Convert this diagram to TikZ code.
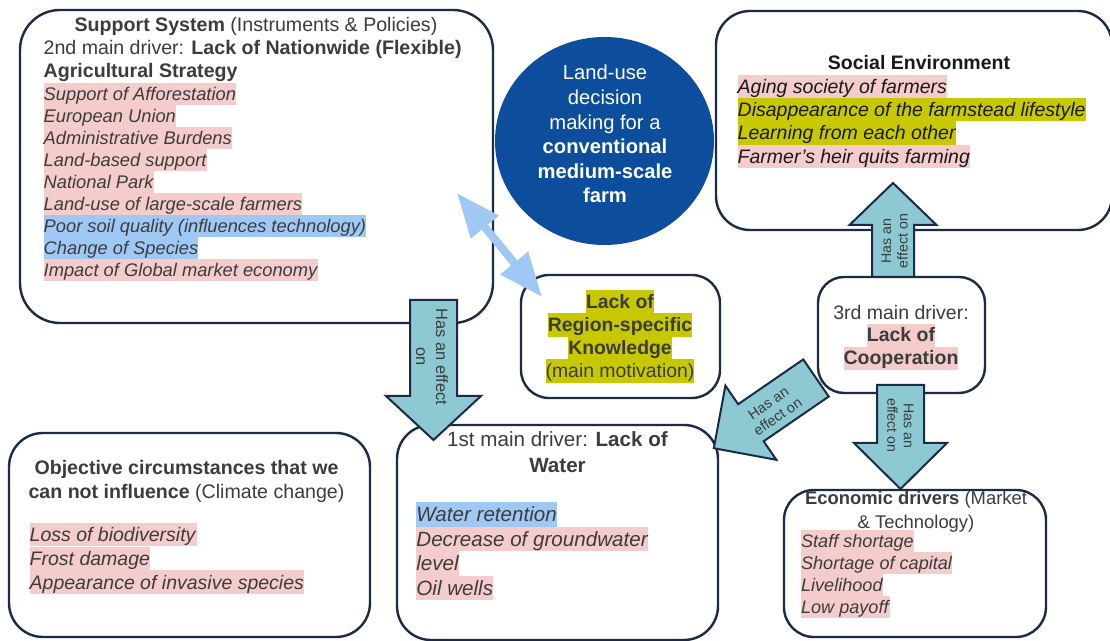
\documentclass[tikz,border=0pt]{standalone}
\usepackage{fontspec}
\setmainfont{Liberation Sans}
\usetikzlibrary{arrows.meta,fit,shapes.geometric}

\definecolor{navy}{RGB}{27,42,70}
\definecolor{hubblue}{RGB}{12,78,155}
\definecolor{effteal}{RGB}{140,201,210}
\definecolor{hlpink}{RGB}{244,204,204}
\definecolor{hlblue}{RGB}{160,200,245}
\definecolor{hlolive}{RGB}{200,200,0}
\definecolor{linkblue}{RGB}{160,200,245}
\definecolor{ink}{RGB}{60,60,60}
\definecolor{inkdark}{RGB}{25,25,25}

% highlighted line: a coloured band exactly one baselineskip tall
\newcommand\hl[2]{{\setlength{\fboxsep}{0pt}\colorbox{#1}{\rule[-0.2\baselineskip]{0pt}{\baselineskip}#2\/}}}

% block arrow: start, angle, length, shaft half-width, head half-width, head length
\newcommand\effarrow[6]{%
  \draw[eff, shift={#1}, rotate=#2]
    (0,-#4) -- ({#3-#6},-#4) -- ({#3-#6},-#5) -- (#3,0) --
    ({#3-#6},#5) -- ({#3-#6},#4) -- (0,#4) -- cycle;}

\tikzset{
  box/.style={draw=navy, line width=1.2pt, fill=white, inner sep=0pt},
  eff/.style={draw=navy, line width=1pt, fill=effteal, line join=miter},
  txt/.style={inner sep=0pt, text=ink},
  efftxt/.style={inner sep=0pt, text=ink, align=center},
}

\begin{document}
\begin{tikzpicture}[x=0.5pt,y=-0.5pt]
\useasboundingbox (0,0) rectangle (1110,641);
\fill[white] (0,0) rectangle (1110,641);

% ---------- boxes ----------
\node[box, rounded corners=20pt, fit={(20,10)(493,323)}] (sup) {};
\node[box, rounded corners=17pt, fit={(716,11)(1112,230)}] (soc) {};
\node[box, rounded corners=14pt, fit={(521,275)(720,398)}] (know) {};
\node[box, rounded corners=13pt, fit={(818,277)(985,393)}] (third) {};
\node[box, rounded corners=17pt, fit={(9,433)(370,637)}] (obj) {};
\node[box, rounded corners=17pt, fit={(397,425)(718,640)}] (first) {};
\node[box, rounded corners=15pt, fit={(784,490)(1046,637)}] (econ) {};

% ---------- central disc ----------
\node[ellipse, fill=hubblue, minimum width=109.5pt, minimum height=104pt, inner sep=0pt] (hub) at (604.5,141) {};
\foreach \t/\yy [count=\i] in {Land-use/80, decision/104.6, making for a/129.3,
    \textbf{conventional}/153.7, \textbf{medium-scale}/178.3, \textbf{farm}/203}
  \node[inner sep=0pt, text=white, anchor=base,
        font=\fontsize{10.1}{12.3}\selectfont] (hub-\i) at (605,\yy) {\t};

% ---------- block arrows ----------
\coordinate (aA) at (433.5,300);
\coordinate (aB) at (893,277);
\coordinate (aC) at (900.5,385);
\coordinate (aD) at (816,378);
\effarrow{(aA)}{-90}{140}{23.5}{47.5}{44}
\effarrow{(aB)}{90}{94}{21}{43.5}{42}
\effarrow{(aC)}{-90}{104}{23.5}{46.5}{46}
\effarrow{(aD)}{214.5}{124}{22.5}{45}{45}

\node[efftxt, rotate=-90, font=\fontsize{8.2}{10}\selectfont] (tA) at (432,357) {Has an effect\\on};
\node[efftxt, rotate=90, font=\fontsize{7.1}{8.2}\selectfont] (tB) at (894.5,241) {Has an\\effect on};
\node[efftxt, rotate=-90, font=\fontsize{7.1}{8.2}\selectfont] (tC) at (900.5,425.5) {Has an\\effect on};
\node[efftxt, rotate=34.5, font=\fontsize{7.2}{8.3}\selectfont] (tD) at (773,410) {Has an\\effect on};

% ---------- two-way link ----------
\coordinate (lA) at (457,193);
\coordinate (lB) at (542,297);
\draw[linkblue, line width=4pt, {Triangle[length=22pt,width=17pt]}-{Triangle[length=22pt,width=17pt]}] (lA) -- (lB);

% ---------- support system ----------
\node[txt, anchor=base, font=\fontsize{9.8}{11.5}\selectfont] (sup-h1) at (256,31.6)
  {\textbf{Support System} (Instruments \& Policies)};
\node[txt, anchor=base west, font=\fontsize{9.8}{11.5}\selectfont] (sup-h2) at (43.3,55)
  {2nd main driver: \textbf{Lack of Nationwide (Flexible)}};
\node[txt, anchor=base west, font=\fontsize{9.8}{11.5}\selectfont] (sup-h3) at (43.3,77.7)
  {\textbf{Agricultural Strategy}};
\foreach \c/\t [count=\i from 0] in {hlpink/Support of Afforestation, hlpink/European Union,
    hlpink/Administrative Burdens, hlpink/Land-based support, hlpink/National Park,
    hlpink/Land-use of large-scale farmers, hlblue/Poor soil quality (influences technology),
    hlblue/Change of Species, hlpink/Impact of Global market economy}
  \node[txt, anchor=base west, font=\fontsize{9.15}{11.04}\selectfont\itshape]
    (sup-\i) at (43.3,{100.4+22.07*\i}) {\hl{\c}{\t}};

% ---------- social environment ----------
\node[txt, text=inkdark, anchor=base, font=\fontsize{9.75}{11.65}\selectfont\bfseries] (soc-h) at (919,70)
  {Social Environment};
\foreach \c/\t [count=\i from 0] in {hlpink/Aging society of farmers,
    hlolive/Disappearance of the farmstead lifestyle, hlolive/Learning from each other,
    hlpink/Farmer’s heir quits farming}
  \node[txt, text=inkdark, anchor=base west, font=\fontsize{9.75}{11.65}\selectfont\itshape]
    (soc-\i) at (737.3,{93.3+23.3*\i}) {\hl{\c}{\t}};

% ---------- region-specific knowledge ----------
\foreach \t/\yy [count=\i] in {\textbf{Lack of}/309, \textbf{Region-specific}/332,
    \textbf{Knowledge}/355, (main motivation)/378}
  \node[txt, anchor=base, font=\fontsize{9.7}{11.6}\selectfont] (know-\i) at (620,\yy)
    {\hl{hlolive}{\t}};

% ---------- 3rd main driver ----------
\node[txt, anchor=base, font=\fontsize{9.75}{11.5}\selectfont] (third-h) at (901,319.5) {3rd main driver:};
\node[txt, anchor=base, font=\fontsize{9.75}{11.5}\selectfont\bfseries] (third-1) at (901,342) {\hl{hlpink}{Lack of}};
\node[txt, anchor=base, font=\fontsize{9.75}{11.5}\selectfont\bfseries] (third-2) at (901,365) {\hl{hlpink}{Cooperation}};

% ---------- objective circumstances ----------
\node[txt, anchor=base, font=\fontsize{9.8}{11.7}\selectfont\bfseries] (obj-h1) at (186.5,475)
  {Objective circumstances that we};
\node[txt, anchor=base, font=\fontsize{9.8}{11.7}\selectfont] (obj-h2) at (186.5,498.3)
  {\textbf{can not influence} (Climate change)};
\foreach \t [count=\i from 0] in {Loss of biodiversity, Frost damage, Appearance of invasive species}
  \node[txt, anchor=base west, font=\fontsize{9.75}{11.8}\selectfont\itshape]
    (obj-\i) at (29.3,{541.7+23.8*\i}) {\hl{hlpink}{\t}};

% ---------- 1st main driver ----------
\node[txt, anchor=base, font=\fontsize{10.3}{12.25}\selectfont] (first-h1) at (557.5,446.7)
  {1st main driver: \textbf{Lack of}};
\node[txt, anchor=base, font=\fontsize{10.3}{12.25}\selectfont\bfseries] (first-h2) at (557.5,472.3) {Water};
\foreach \c/\t [count=\i from 0] in {hlblue/Water retention, hlpink/Decrease of groundwater,
    hlpink/level, hlpink/Oil wells}
  \node[txt, anchor=base west, font=\fontsize{10.3}{12.25}\selectfont\itshape]
    (first-\i) at (416,{521.7+24.5*\i}) {\hl{\c}{\t}};

% ---------- economic drivers ----------
\node[txt, anchor=base, font=\fontsize{9.2}{11.1}\selectfont] (econ-h1) at (916,505)
  {\textbf{Economic drivers} (Market};
\node[txt, anchor=base, font=\fontsize{9.2}{11.1}\selectfont] (econ-h2) at (916,528.3) {\& Technology)};
\foreach \t [count=\i from 0] in {Staff shortage, Shortage of capital, Livelihood, Low payoff}
  \node[txt, anchor=base west, font=\fontsize{9.05}{11.1}\selectfont\itshape]
    (econ-\i) at (800.7,{547.3+22.2*\i}) {\hl{hlpink}{\t}};

\end{tikzpicture}
\end{document}
